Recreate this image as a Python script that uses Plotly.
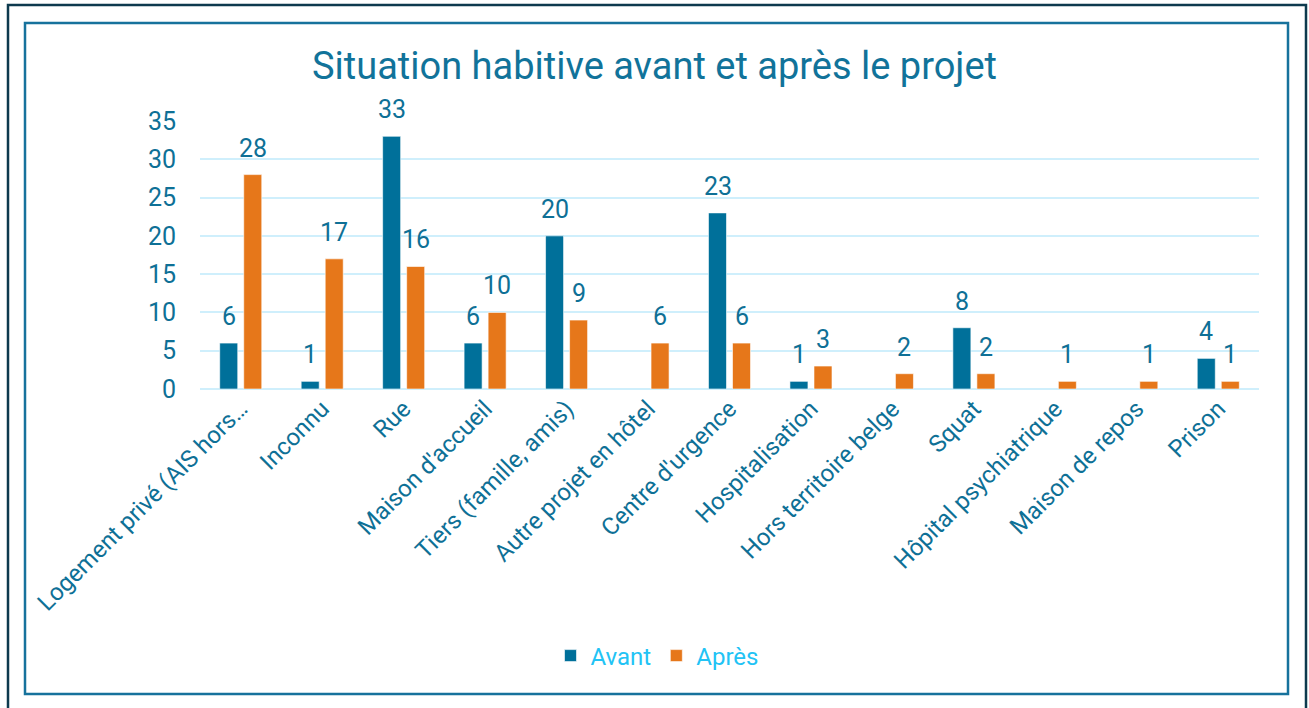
import plotly.graph_objects as go

categories = [
    "Logement privé (AIS hors…",
    "Inconnu",
    "Rue",
    "Maison d'accueil",
    "Tiers (famille, amis)",
    "Autre projet en hôtel",
    "Centre d'urgence",
    "Hospitalisation",
    "Hors territoire belge",
    "Squat",
    "Hôpital psychiatrique",
    "Maison de repos",
    "Prison",
]
avant = [6, 1, 33, 6, 20, None, 23, 1, None, 8, None, None, 4]
apres = [28, 17, 16, 10, 9, 6, 6, 3, 2, 2, 1, 1, 1]

TEAL = "#00709A"
ORANGE = "#E6771A"
TEXT = "#0E7096"
GRID = "#CFEFFC"
FONT = "Roboto"

W, H = 1309, 708
L, R, T, B = 200, 50, 121, 319
PW, PH = W - L - R, H - T - B


def px_x(x):
    return (x - L) / PW


def px_y(y):
    return (H - B - y) / PH


fig = go.Figure()
fig.add_trace(go.Bar(name="Avant", x=categories, y=avant, marker_color=TEAL,
                     marker_line=dict(color="rgba(255,255,255,0.6)", width=1)))
fig.add_trace(go.Bar(name="Après", x=categories, y=apres, marker_color=ORANGE,
                     marker_line=dict(color="rgba(255,255,255,0.6)", width=1)))

annotations = []
for series, shift in ((avant, -12), (apres, 12)):
    for c, v in zip(categories, series):
        if v is None:
            continue
        annotations.append(dict(x=c, y=v, xref="x", yref="y", text=str(v),
                                showarrow=False, xshift=shift, yshift=10,
                                yanchor="bottom",
                                font=dict(family=FONT, size=25, color=TEXT)))

shapes = [
    dict(type="rect", xref="paper", yref="paper",
         x0=px_x(8), x1=px_x(1306), y0=px_y(5), y1=px_y(715),
         line=dict(color="#0D3A4E", width=2.5), fillcolor="rgba(0,0,0,0)", layer="below"),
    dict(type="rect", xref="paper", yref="paper",
         x0=px_x(25), x1=px_x(1288), y0=px_y(23), y1=px_y(694),
         line=dict(color="#17729C", width=2.5), fillcolor="rgba(0,0,0,0)", layer="below"),
]

fig.update_layout(
    width=W, height=H,
    margin=dict(l=L, r=R, t=T, b=B, autoexpand=False),
    paper_bgcolor="white", plot_bgcolor="white",
    font=dict(family=FONT, color=TEXT),
    title=dict(text="Situation habitive avant et après le projet",
               x=0.5, xref="container", xanchor="center",
               y=1 - 66 / H, yref="container", yanchor="middle",
               font=dict(family=FONT, size=38, color="#11739A")),
    barmode="group", bargap=0.41, bargroupgap=0.25,
    xaxis=dict(tickangle=-45, tickfont=dict(family=FONT, size=24, color=TEXT),
               showgrid=False, showline=False, ticks=""),
    yaxis=dict(range=[0, 35], dtick=5, gridcolor=GRID, gridwidth=2,
               zeroline=True, zerolinecolor=GRID, zerolinewidth=2,
               tickfont=dict(family=FONT, size=25, color=TEXT),
               ticklabelstandoff=23),
    legend=dict(orientation="h", x=px_x(657), xanchor="center",
                y=px_y(656), yanchor="middle",
                font=dict(family=FONT, size=24, color="#22C3F5"),
                itemwidth=30, tracegroupgap=0),
    annotations=annotations,
    shapes=shapes,
)

fig.write_html("out.html")
